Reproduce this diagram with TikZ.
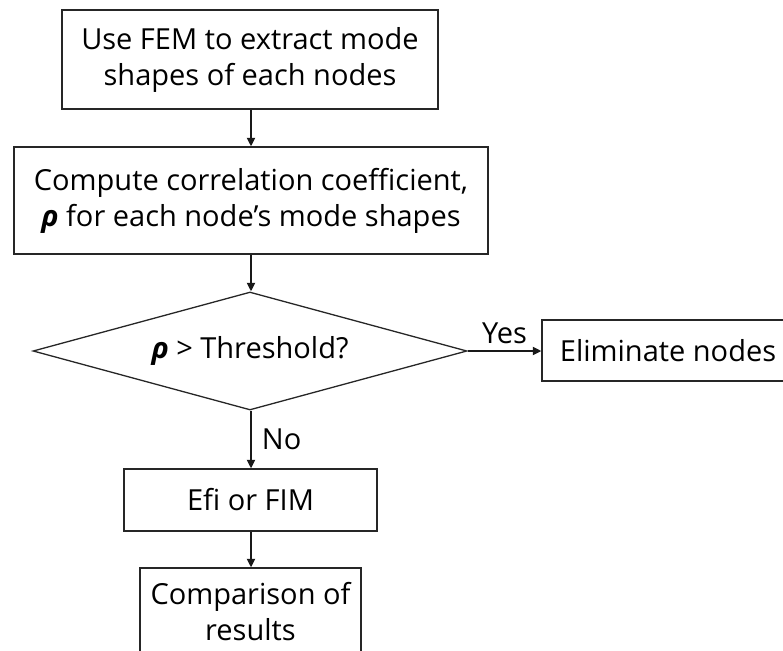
\documentclass[tikz,border=0pt]{standalone}
\usepackage{fontspec}
\setmainfont{Open Sans}
\usetikzlibrary{shapes.geometric,arrows.meta}
\tikzset{
  box/.style={draw=black!85, line width=1.3pt, rectangle, inner sep=0pt, align=center, font=\fontsize{29}{36}\selectfont},
  decision/.style={draw=black!85, line width=1.3pt, diamond, inner sep=0pt, align=center, font=\fontsize{29}{36}\selectfont},
  conn/.style={draw=black!90, line width=1.8pt, -{Triangle[length=8.5pt,width=8pt]}},
  lbl/.style={font=\fontsize{29}{36}\selectfont, inner sep=0pt}
}
\begin{document}
\begin{tikzpicture}[x=1pt,y=-1pt]
\useasboundingbox (0,0) rectangle (783,650);
\clip (0,0) rectangle (783,650);
\node[box, minimum width=376pt, minimum height=99pt] (b1) at (250,59.5) {Use FEM to extract mode\\shapes of each nodes};
\node[box, minimum width=474pt, minimum height=107pt] (b2) at (251,200.5) {Compute correlation coefficient,\\\textbf{\textit{ρ}} for each node’s mode shapes};
\node[decision, minimum width=434pt, minimum height=118pt, shape aspect=3.68] (d) at (250,351) {\textbf{\textit{ρ}} > Threshold?};
\node[box, minimum width=252pt, minimum height=61pt] (e) at (668,350.5) {Eliminate nodes};
\node[box, minimum width=253pt, minimum height=62pt] (f) at (250.5,500) {Efi or FIM};
\node[box, minimum width=221pt, minimum height=88pt] (c) at (250.5,612) {Comparison of\\results};
\draw[conn] (b1.south -| 251,0) -- (b2.north -| 251,0);
\draw[conn] (b2.south -| 251,0) -- (d.north -| 251,0);
\draw[conn] (d.east) -- node[lbl, above=6pt] (yes) {Yes} (e.west |- d.east);
\draw[conn] (d.south -| 251,0) -- node[lbl, right=10pt] (no) {No} (f.north -| 251,0);
\draw[conn] (f.south -| 251,0) -- (c.north -| 251,0);
\end{tikzpicture}
\end{document}
